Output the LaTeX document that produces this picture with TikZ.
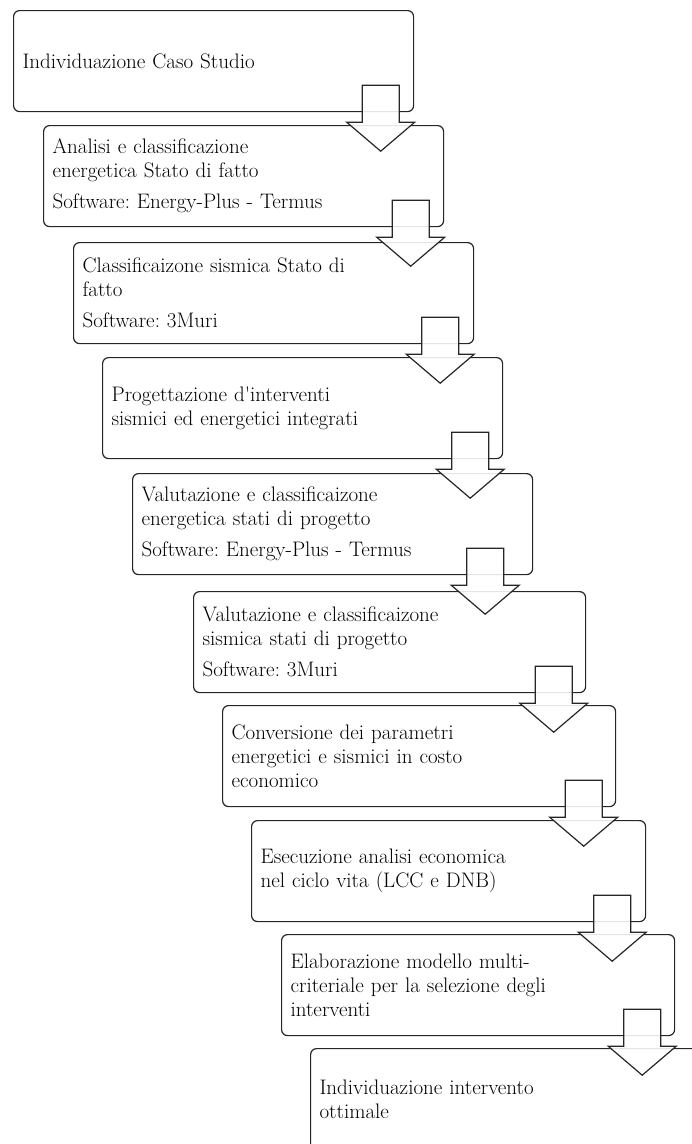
\documentclass[tikz,border=0pt]{standalone}
\usetikzlibrary{calc}
\tikzset{
  fase/.style={draw=black!85, line width=1.2pt, rounded corners=6pt, anchor=north west,
    align=left, text width=#1, inner xsep=9pt, inner ysep=0pt, minimum height=101pt,
    font=\fontsize{21}{24}\selectfont\frenchspacing},
  fase/.default=382pt,
  passo/.style={draw=black!85, line width=1.2pt, fill=white, fill opacity=0.88}
}
\begin{document}
\begin{tikzpicture}[x=1pt,y=-1pt]
\useasboundingbox (0,0) rectangle (692,1144);
\clip (0,0) rectangle (692,1144);
% fasi del percorso
\node[fase] (b1) at (13,10) {Individuazione Caso Studio};
\node[fase] (b2) at (43,125) {Analisi e classificazione\\energetica Stato di fatto\\[7pt]Software: Energy-Plus - Termus};
\node[fase] (b3) at (73,242) {Classificaizone sismica Stato di\\fatto\\[7pt]Software: 3Muri};
\node[fase] (b4) at (102,357) {Progettazione d\textquotesingle interventi\\sismici ed energetici integrati};
\node[fase] (b5) at (132,473) {Valutazione e classificaizone\\energetica stati di progetto\\[7pt]Software: Energy-Plus - Termus};
\node[fase=374pt] (b6) at (193,591) {Valutazione e classificaizone\\sismica stati di progetto\\[7pt]Software: 3Muri};
\node[fase=375pt] (b7) at (222,705) {Conversione dei parametri\\energetici e sismici in costo\\economico};
\node[fase=376pt] (b8) at (251,820) {Esecuzione analisi economica\\nel ciclo vita (LCC e DNB)};
\node[fase=375pt] (b9) at (281,934) {Elaborazione modello multi-\\criteriale per la selezione degli\\interventi};
\node[fase=375pt] (b10) at (310,1048) {Individuazione intervento\\ottimale};
% frecce a blocco
\foreach \a/\dx in {1/33.5,2/33.5,3/34,4/33,5/48,6/32.5,7/32.5,8/34,9/33}
  \draw[passo] ($(b\a.south east)+(-\dx,0)$) ++(-18.5,-27) -- ++(0,37) -- ++(-15.5,0)
    -- ++(34,29) -- ++(34,-29) -- ++(-15.5,0) -- ++(0,-37) -- cycle;
\end{tikzpicture}
\end{document}
